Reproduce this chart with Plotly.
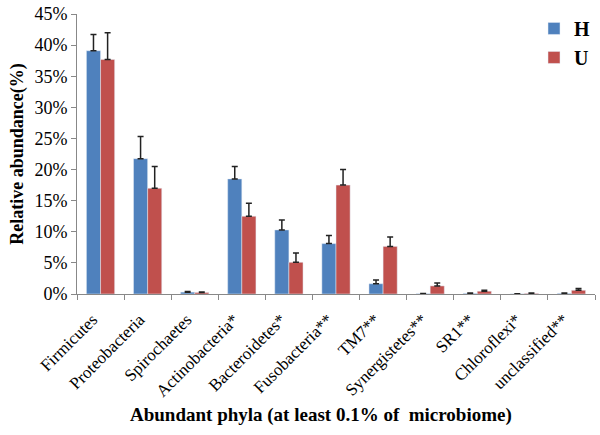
import plotly.graph_objects as go

phyla = ["Firmicutes", "Proteobacteria", "Spirochaetes", "Actinobacteria*",
         "Bacteroidetes*", "Fusobacteria**", "TM7**", "Synergistetes**",
         "SR1**", "Chloroflexi*", "unclassified**"]
h_vals = [39.1, 21.75, 0.3, 18.5, 10.3, 8.1, 1.65, 0.05, 0.1, 0.02, 0.1]
h_err = [2.6, 3.55, 0.1, 2.0, 1.6, 1.3, 0.6, 0.02, 0.05, 0.02, 0.05]
u_vals = [37.7, 17.0, 0.25, 12.5, 5.1, 17.5, 7.65, 1.3, 0.45, 0.1, 0.6]
u_err = [4.3, 3.5, 0.08, 2.1, 1.5, 2.5, 1.5, 0.45, 0.15, 0.08, 0.3]

serif = "Liberation Serif, DejaVu Serif, serif"

fig = go.Figure()
fig.add_trace(go.Bar(
    x=phyla, y=h_vals, name="H", marker=dict(color="#4F81BD"),
    error_y=dict(type="data", array=h_err, arrayminus=[0] * len(h_err),
                 symmetric=False, color="#222222", thickness=1.5, width=3),
))
fig.add_trace(go.Bar(
    x=phyla, y=u_vals, name="U", marker=dict(color="#C0504D"),
    error_y=dict(type="data", array=u_err, arrayminus=[0] * len(u_err),
                 symmetric=False, color="#222222", thickness=1.5, width=3),
))

# x title as annotation so it can sit a bit left of the plot centre
fig.add_annotation(
    text="<b>Abundant phyla (at least 0.1% of  microbiome)</b>",
    xref="paper", yref="paper", x=0.471, y=-0.432,
    xanchor="center", yanchor="middle", showarrow=False,
    font=dict(size=19, family=serif),
)

fig.update_layout(
    width=600, height=435,
    margin=dict(l=77, r=5, t=14, b=141),
    paper_bgcolor="white", plot_bgcolor="white",
    barmode="group", bargap=0.4, bargroupgap=0,
    font=dict(family=serif, color="black"),
    legend=dict(x=1.0, y=1.018, xanchor="right", yanchor="top",
                font=dict(size=20, family=serif, weight="bold"),
                bgcolor="rgba(0,0,0,0)"),
    xaxis=dict(
        automargin=False,
        showline=True, linecolor="#888888", linewidth=1,
        ticks="outside", tickson="boundaries", ticklen=5, tickcolor="#888888",
        tickangle=-45, tickfont=dict(size=17, family=serif),
        ticklabelstandoff=8, ticklabelshift=-8,
    ),
    yaxis=dict(
        automargin=False,
        range=[0, 45], dtick=5, ticksuffix="%",
        showline=True, linecolor="#888888", linewidth=1,
        ticks="outside", ticklen=5, tickcolor="#888888",
        showgrid=False, zeroline=False, tickfont=dict(size=18, family=serif),
        title=dict(text="<b>Relative abundance(%)</b>",
                   font=dict(size=18, family=serif), standoff=6),
    ),
)

# browser default body margin would shift the figure by 8px
fig.write_html("out.html", config={"displayModeBar": False},
               post_script="document.body.style.margin='0';")
